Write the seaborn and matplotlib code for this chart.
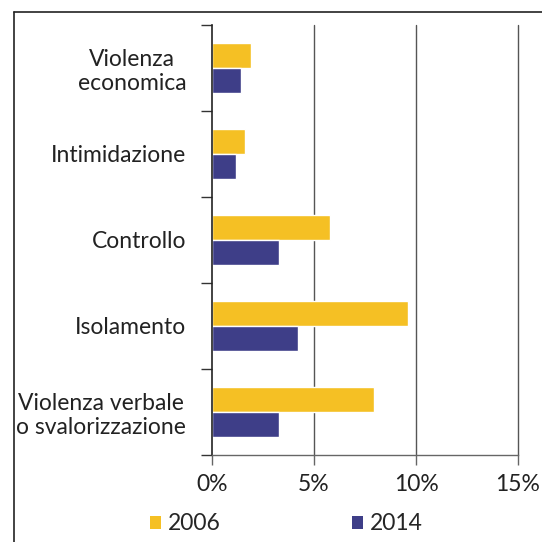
import matplotlib
matplotlib.use("Agg")
import matplotlib.pyplot as plt
import seaborn as sns
import pandas as pd
from matplotlib.patches import Patch
from matplotlib.lines import Line2D

categories = ["Violenza\neconomica", "Intimidazione", "Controllo", "Isolamento",
              "Violenza verbale\no svalorizzazione"]
years = ["2006", "2014"]
values_2006 = [1.9, 1.6, 5.8, 9.6, 7.95]
values_2014 = [1.4, 1.2, 3.3, 4.2, 3.3]
xticks = [0, 5, 10, 15]
xtick_labels = ["0%", "5%", "10%", "15%"]

colors = {"2006": "#F5C024", "2014": "#3E3E88"}
FS = 16.5

df = pd.DataFrame({
    "cat": categories * 2,
    "year": ["2006"] * len(categories) + ["2014"] * len(categories),
    "val": values_2006 + values_2014,
})

sns.set_theme(style="white")
plt.rcParams["font.family"] = ["Lato", "DejaVu Sans"]

fig = plt.figure(figsize=(5.42, 5.42), dpi=100)
ax = fig.add_axes([212/542, 1-455/542, (518-212)/542, (455-25)/542])

sns.barplot(data=df, y="cat", x="val", hue="year", order=categories,
            hue_order=years, palette=colors, width=0.57, orient="h",
            ax=ax, legend=False, saturation=1)

ax.set_xlim(0, 15)
ax.set_ylim(4.5, -0.5)
ax.set_xticks(xticks)
ax.set_xticklabels(xtick_labels, fontsize=FS, color="#222222")
for x in xticks[1:]:
    ax.axvline(x, color="#555555", lw=1.0, zorder=0, clip_on=False)

ax.set_yticks(range(len(categories)))
ax.set_yticklabels(categories, fontsize=FS, color="#222222", multialignment="center")
ax.set_yticks([i - 0.5 for i in range(len(categories) + 1)], minor=True)
ax.tick_params(axis="y", which="major", length=0, pad=18.5)
ax.tick_params(axis="y", which="minor", length=8, width=1, color="#333333", left=True)
ax.tick_params(axis="x", which="major", length=7, width=1, color="#666666", bottom=True, pad=7)
ax.set_xlabel("")
ax.set_ylabel("")

for s in ["top", "right"]:
    ax.spines[s].set_visible(False)
ax.spines["left"].set_color("#222222")
ax.spines["left"].set_linewidth(1.2)
ax.spines["bottom"].set_color("#666666")
ax.spines["bottom"].set_linewidth(1.0)

# outer frame (left and top lines)
fig.add_artist(Line2D([14/542, 14/542], [0, 1-12/542], color="#222222", lw=1.2,
                      transform=fig.transFigure))
fig.add_artist(Line2D([14/542, 1], [1-12/542, 1-12/542], color="#222222", lw=1.2,
                      transform=fig.transFigure))

for yr, xpos in zip(years, [150, 352]):
    fig.legend([Patch(facecolor=colors[yr], edgecolor="none")], [yr],
               loc="center left", bbox_to_anchor=(xpos/542, 1-524/542),
               frameon=False, fontsize=FS, handlelength=0.5, handleheight=0.5,
               handletextpad=0.3, borderpad=0, borderaxespad=0)

fig.savefig("out.png", dpi=100)
